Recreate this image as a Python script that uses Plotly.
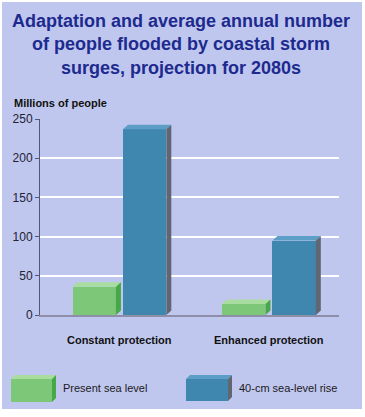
import plotly.graph_objects as go

# ---- data ----
categories = ["Constant protection", "Enhanced protection"]
present_sea_level = [36, 14]
sea_level_rise_40cm = [237, 95]
series_names = ["Present sea level", "40-cm sea-level rise"]
y_ticks = [0, 50, 100, 150, 200, 250]

# ---- styling / geometry ----
W, H = 365, 417
L, R, T, B = 40, 26, 119, 102
FONT = "Liberation Sans, Arial, sans-serif"
cat_pos = [1, 2]
bar_w = 0.29
offsets = [-0.167, 0.17]
x_range = [0.47, 2.47]
y_range = [0, 250]
px_per_x = (W - L - R) / (x_range[1] - x_range[0])
px_per_y = (H - T - B) / (y_range[1] - y_range[0])
dx = 5 / px_per_x
dy = 4.5 / px_per_y

styles = [
    dict(front="#7cc878", top="#a8dd9f", side="#46a846"),
    dict(front="#3f87af", top="#5d9ec6", side="#5f6772"),
]

fig = go.Figure()
all_series = [present_sea_level, sea_level_rise_40cm]
for si, vals in enumerate(all_series):
    st = styles[si]
    xs = [c + offsets[si] for c in cat_pos]
    fig.add_trace(go.Bar(
        x=xs, y=vals, width=bar_w, name=series_names[si],
        marker=dict(color=st["front"], line=dict(width=0)),
        showlegend=False, hoverinfo="skip",
    ))
    for x, v in zip(xs, vals):
        xl, xr = x - bar_w / 2, x + bar_w / 2
        # top face
        fig.add_trace(go.Scatter(
            x=[xl, xl + dx, xr + dx, xr, xl],
            y=[v, v + dy, v + dy, v, v],
            fill="toself", fillcolor=st["top"], mode="lines",
            line=dict(width=0, color=st["top"]),
            showlegend=False, hoverinfo="skip",
        ))
        # side face
        fig.add_trace(go.Scatter(
            x=[xr, xr + dx, xr + dx, xr, xr],
            y=[0, dy, v + dy, v, 0],
            fill="toself", fillcolor=st["side"], mode="lines",
            line=dict(width=0, color=st["side"]),
            showlegend=False, hoverinfo="skip",
        ))

def px_to_paper_x(px):
    return (px - L) / (W - L - R)

def px_to_paper_y(py):
    return (H - B - py) / (H - T - B)

shapes = []
# page background
shapes.append(dict(type="rect", xref="paper", yref="paper", layer="below",
                   x0=px_to_paper_x(2), x1=px_to_paper_x(362),
                   y0=px_to_paper_y(409), y1=px_to_paper_y(2),
                   fillcolor="#c0c7ef", line=dict(width=0)))

# legend 3D swatches
legend_boxes = [(11, 52, 379, 402), (186, 228, 379, 401)]
annotations = []
for i, (x0, x1, y0, y1) in enumerate(legend_boxes):
    st = styles[i]
    d_x, d_y = 4, 4
    shapes.append(dict(type="rect", xref="paper", yref="paper",
                       x0=px_to_paper_x(x0), x1=px_to_paper_x(x1),
                       y0=px_to_paper_y(y1), y1=px_to_paper_y(y0),
                       fillcolor=st["front"], line=dict(width=0)))
    top_path = "M {a},{b} L {c},{d} L {e},{d} L {f},{b} Z".format(
        a=px_to_paper_x(x0), b=px_to_paper_y(y0),
        c=px_to_paper_x(x0 + d_x), d=px_to_paper_y(y0 - d_y),
        e=px_to_paper_x(x1 + d_x), f=px_to_paper_x(x1))
    shapes.append(dict(type="path", xref="paper", yref="paper", path=top_path,
                       fillcolor=st["top"], line=dict(width=0)))
    side_path = "M {a},{b} L {c},{d} L {c},{e} L {a},{f} Z".format(
        a=px_to_paper_x(x1), b=px_to_paper_y(y0),
        c=px_to_paper_x(x1 + d_x), d=px_to_paper_y(y0 - d_y),
        e=px_to_paper_y(y1 - d_y), f=px_to_paper_y(y1))
    shapes.append(dict(type="path", xref="paper", yref="paper", path=side_path,
                       fillcolor=st["side"], line=dict(width=0)))
    annotations.append(dict(
        text=series_names[i], xref="paper", yref="paper",
        x=px_to_paper_x(x1 + 8.5), y=px_to_paper_y(388),
        xanchor="left", yanchor="middle", showarrow=False,
        font=dict(family=FONT, size=11, color="#1a1a1a")))

annotations.append(dict(
    text="<b>Millions of people</b>", xref="paper", yref="paper",
    x=px_to_paper_x(12), y=px_to_paper_y(103),
    xanchor="left", yanchor="middle", showarrow=False,
    font=dict(family=FONT, size=11, color="#111111")))

# title as annotation for predictable placement
annotations.append(dict(
    text="<b>Adaptation and average annual number<br>of people flooded by coastal storm<br>surges, projection for 2080s</b>",
    xref="paper", yref="paper",
    x=px_to_paper_x(181), y=px_to_paper_y(9),
    xanchor="center", yanchor="top", align="center", showarrow=False,
    font=dict(family=FONT, size=18, color="#1d2a8e")))

fig.update_layout(
    width=W, height=H,
    margin=dict(l=L, r=R, t=T, b=B, pad=0),
    paper_bgcolor="#ffffff",
    plot_bgcolor="#d6daf7",
    font=dict(family=FONT, color="#222233"),
    xaxis=dict(
        range=x_range, tickvals=cat_pos,
        ticktext=["<b>%s</b>" % c for c in categories],
        tickfont=dict(family=FONT, size=11, color="#111111"),
        showgrid=False, zeroline=False,
        showline=True, linecolor="#8e8ea8", linewidth=2,
        ticks="", ticklabelstandoff=14,
        fixedrange=True,
    ),
    yaxis=dict(
        range=y_range, tickvals=y_ticks,
        tickfont=dict(family=FONT, size=12, color="#222233"),
        showgrid=True, gridcolor="#ffffff", gridwidth=1.5,
        zeroline=False, showline=True, linecolor="#55557a", linewidth=1,
        ticks="outside", ticklen=4, tickcolor="#55557a",
        fixedrange=True,
    ),
    shapes=shapes,
    annotations=annotations,
    showlegend=False,
    bargap=0,
)

fig.write_html("out.html", config={"displayModeBar": False},
               post_script="document.body.style.margin='0';document.body.style.overflow='hidden';")
